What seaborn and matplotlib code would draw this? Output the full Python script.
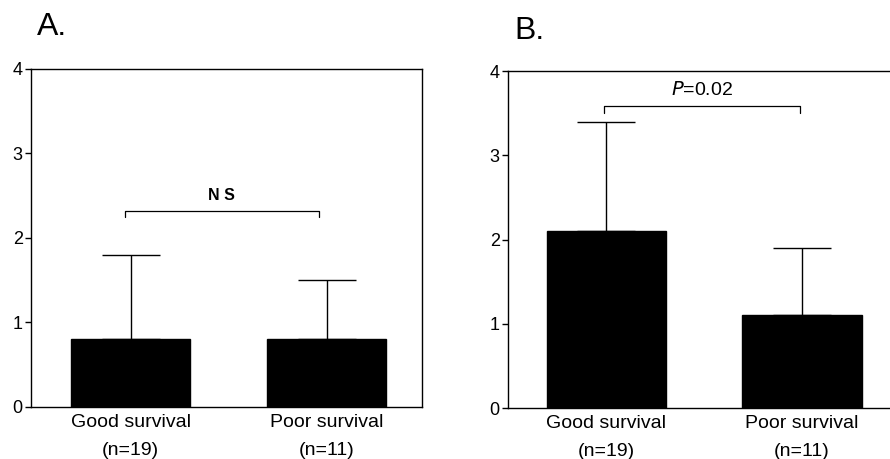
import matplotlib
matplotlib.use("Agg")
import matplotlib.pyplot as plt
import seaborn as sns
import pandas as pd

sns.set_theme(style="white")
plt.rcParams['font.family'] = ['Liberation Sans', 'DejaVu Sans']
plt.rcParams['text.color'] = 'black'
plt.rcParams['xtick.color'] = 'black'
plt.rcParams['ytick.color'] = 'black'
plt.rcParams['axes.labelcolor'] = 'black'

categories = ["Good survival\n(n=19)", "Poor survival\n(n=11)"]
a_values = [0.8, 0.8]
a_errors = [1.0, 0.7]
b_values = [2.1, 1.1]
b_errors = [1.3, 0.8]
a_note = "N S"
b_note = "=0.02"

fig = plt.figure(figsize=(8.9, 4.59), dpi=100)
axA = fig.add_axes([0.0348, 0.1133, 0.4393, 0.7364])
axB = fig.add_axes([0.5708, 0.1111, 0.4292, 0.7340])


def draw(ax, vals, errs, xlim):
    df = pd.DataFrame({"group": categories, "value": vals})
    sns.barplot(data=df, x="group", y="value", color="black", width=0.61,
                saturation=1, edgecolor="black", ax=ax)
    ax.errorbar(range(len(vals)), vals, yerr=[[0] * len(errs), errs],
                fmt="none", ecolor="black", elinewidth=1.0, capsize=21,
                capthick=1.0)
    ax.set_ylim(0, 4)
    ax.set_xlim(*xlim)
    ax.set_yticks([0, 1, 2, 3, 4])
    ax.set_xlabel("")
    ax.set_ylabel("")
    ax.tick_params(axis="y", direction="out", length=4, width=1, colors="black",
                   labelsize=13, pad=2, left=True)
    ax.tick_params(axis="x", length=0, labelsize=14, pad=5, colors="black")
    for lab in ax.get_xticklabels():
        lab.set_linespacing(1.85)
    for s in ax.spines.values():
        s.set_color("black")
        s.set_linewidth(1.0)


draw(axA, a_values, a_errors, (-0.509, 1.487))
draw(axB, b_values, b_errors, (-0.503, 1.45))
axB.spines["right"].set_visible(False)


def bracket(ax, y_top, y_bot, x0, x1, text, ty, size, italic_p=False):
    ax.plot([x0, x0, x1, x1], [y_bot, y_top, y_top, y_bot], color="black", lw=0.9)
    if italic_p:
        ax.text((x0 + x1) / 2, ty, "$\\mathit{P}$" + text, ha="center",
                va="center", fontsize=size, color="black")
    else:
        ax.text((x0 + x1) / 2, ty, text, ha="center", va="center",
                fontsize=size, fontweight="bold", color="black")


bracket(axA, 2.32, 2.25, -0.03, 0.96, a_note, 2.5, 11.5)
bracket(axB, 3.58, 3.50, -0.01, 0.99, b_note, 3.78, 14, italic_p=True)

fig.text(37 / 890, 1 - 27 / 459, "A.", fontsize=23, va="center", ha="left",
         color="black")
fig.text(514 / 890, 1 - 31 / 459, "B.", fontsize=23, va="center", ha="left",
         color="black")

fig.savefig("out.png", dpi=100)
